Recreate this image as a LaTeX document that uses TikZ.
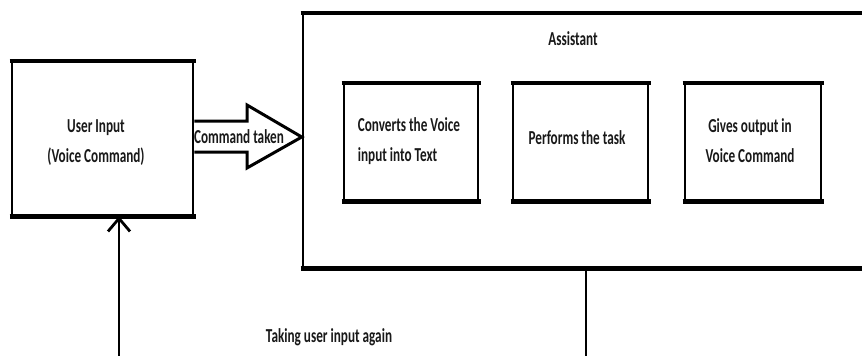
\documentclass[tikz,border=0pt]{standalone}
\usepackage{fontspec}
\setmainfont{Carlito}
\usepackage{graphicx}
\usetikzlibrary{arrows.meta}
\newcommand{\vtext}[1]{\scalebox{1}[1.5]{#1}}
\newcommand{\vlines}[2][c]{\scalebox{1}[1.5]{\begin{tabular}{@{}#1@{}}#2\end{tabular}}}
\begin{document}
\begin{tikzpicture}[x=1pt,y=-1pt,
  box/.style={draw, line width=2.5pt, inner sep=0pt},
  hbar/.style={line width=4.5pt, shorten <=-1.25pt, shorten >=-1.25pt},
  lbl/.style={font=\fontsize{13.2}{20}\selectfont\bfseries, text=black!90, inner sep=0pt},
  blockarrow/.style={draw, line width=3pt, fill=white, line join=miter},
  fb/.style={line width=2pt, -{Straight Barb[length=13pt,width=22pt,line width=2.8pt]}}]
\useasboundingbox (0,0) rectangle (862,356);
\clip (0,0) rectangle (862,356);
\fill[white] (0,0) rectangle (862,356);
% boxes
\node[box, minimum width=181pt, minimum height=153pt] (user) at (102.5,138.5) {};
\node[box, minimum width=577pt, minimum height=253pt] (asst) at (591.5,140.5) {};
\node[box, minimum width=134pt, minimum height=116pt] (c1) at (411,142) {};
\node[box, minimum width=135pt, minimum height=116pt] (c2) at (580.5,142) {};
\node[box, minimum width=136pt, minimum height=116pt] (c3) at (753,142) {};
\foreach \n in {user,asst,c1,c2,c3}{
  \draw[hbar] (\n.north west) -- (\n.north east);
  \draw[hbar] (\n.south west) -- (\n.south east);
}
% block arrow
\draw[blockarrow] (user.east |- 0,121) -- (247,121) -- (247,105) -- (asst.west |- 0,137)
  -- (247,168) -- (247,152) -- (user.east |- 0,152);
\node[lbl] (cmd) at (239,137) {\vtext{Command taken}};
% texts
\node[lbl] (ut) at (96,141) {\vlines{User Input\\(Voice Command)}};
\node[lbl] (at) at (573,39) {\vtext{Assistant}};
\node[lbl] (t1) at (409,140) {\vlines[l]{Converts the Voice\\input into Text}};
\node[lbl] (t2) at (577,138) {\vtext{Performs the task}};
\node[lbl] (t3) at (750,141) {\vlines{Gives output in\\Voice Command}};
% feedback
\draw[fb] (586,0 |- asst.south) -- (586,375) -- (119,375) -- (119,0 |- user.south);
\node[lbl] (again) at (329,337) {\vtext{Taking user input again}};
\end{tikzpicture}
\end{document}
